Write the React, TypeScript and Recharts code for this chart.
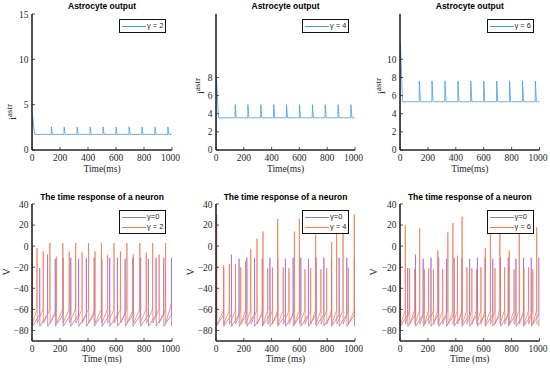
import React from "react"
import { LineChart, Line, XAxis, YAxis } from "recharts"

// astrocyte output: spike times (ms) shared by all three gamma values
const gammas = [2, 4, 6]
const astroTimes = [137, 228, 321, 414, 506, 599, 692, 784, 877, 969]
const astroStart = [4.0, 8.0, 11.8]
const astroBase = [1.72, 3.55, 5.32]
const astroPeak = [2.55, 5.0, 7.6]
const astroYTicks = [
  [0, 5, 10, 15],
  [0, 2, 4, 6, 8],
  [0, 2, 4, 6, 8, 10],
]

// neuron, gamma = 0
const purpleTimes = [3, 55, 111, 166, 222, 277, 333, 388, 444, 499, 555, 610, 665, 720, 776, 831, 886, 941, 996]
const purplePeaks = [-3, -21, -8, -12, -11, -11, -12, -11, -11, -12, -11, -11, -12, -11, -11, -12, -11, -11, -11]

// neuron, gamma = 2
const orange2Times = [3, 36, 80, 128, 174, 220, 266, 312, 358, 404, 450, 496, 540, 586, 632, 678, 724, 770, 816, 862, 908, 954]
const orange2Peaks = [0, -2, -5, 3, -10, 3, -5, 3, -6, 3, -5, 3, -8, 3, -5, 3, -8, 3, -6, 3, -8, 3]

// neuron, gamma = 4
const orange4Times = [5, 55, 96, 140, 178, 213, 250, 295, 338, 372, 406, 444, 484, 525, 564, 600, 640, 681, 717, 755, 796, 832, 868, 914, 952, 995]
const orange4Peaks = [30, -18, -17, -17, -20, -14, -3, 7, 14, -21, -20, 26, -20, -21, 14, 26, -22, -21, 11, -22, -21, 4, 19, 12, -20, 30]

// neuron, gamma = 6
const orange6Times = [3, 38, 69, 105, 141, 175, 205, 240, 271, 306, 343, 379, 412, 445, 480, 515, 548, 580, 612, 648, 681, 716, 750, 783, 818, 855, 888, 922, 952, 980]
const orange6Peaks = [-5, 20, -21, -22, 17, -22, -21, -22, -4, -22, 13, 22, -9, 28, -20, -21, -22, -20, -2, 20, -21, 22, -20, -4, -22, 24, -21, -20, -22, 18]

const xTicks = [0, 200, 400, 600, 800, 1000]
const vTicks = [-80, -60, -40, -20, 0, 20, 40]

type Pt = { t: number; v: number }

function astroSeries(i: number): Pt[] {
  const pts: Pt[] = [
    { t: 0, v: 0 },
    { t: 3, v: astroStart[i] },
    { t: 18, v: astroBase[i] },
  ]
  astroTimes.forEach((s) => {
    pts.push({ t: s, v: astroBase[i] }, { t: s + 1.5, v: astroPeak[i] }, { t: s + 9, v: astroBase[i] })
  })
  pts.push({ t: 1000, v: astroBase[i] })
  return pts
}

function spikeSeries(times: number[], peaks: number[], reset: number, thr: number, end: number): Pt[] {
  const pts: Pt[] = [{ t: 0, v: -65 }]
  times.forEach((s, k) => {
    pts.push({ t: s - 0.8, v: thr }, { t: s, v: peaks[k] }, { t: s + 1.2, v: reset })
  })
  pts.push({ t: 1000, v: end })
  return pts
}

const BLUE = "#4598da"
const PURPLE = "#a26fd2"
const ORANGE = "#f07d55"
const AX = "#262626"

const purple = spikeSeries(purpleTimes, purplePeaks, -76, -65, -74)
const neuron = [
  spikeSeries(orange2Times, orange2Peaks, -73, -60, -52),
  spikeSeries(orange4Times, orange4Peaks, -74, -61, -62),
  spikeSeries(orange6Times, orange6Peaks, -74, -61, -70),
]

const cols = [
  { x0: 32, x1: 172 },
  { x0: 216, x1: 355 },
  { x0: 400, x1: 539.5 },
]
const rows = [
  { y0: 14, y1: 150 },
  { y0: 204, y1: 341 },
]

const fmt = (v: number) => (v < 0 ? `\u2212${-v}` : `${v}`)
const tickStyle = { fontSize: 9.5, fontFamily: "Liberation Serif", fill: AX }

type Series = { data: Pt[]; color: string; key: string }

function Panel(props: {
  x0: number
  x1: number
  y0: number
  y1: number
  domain: [number, number]
  yTicks: number[]
  series: Series[]
}) {
  const { x0, x1, y0, y1, domain, yTicks, series } = props
  const padL = 34
  const padR = 8
  const padT = 4
  const padB = 22
  return (
    <div style={{ position: "absolute", left: x0 - padL, top: y0 - padT }}>
      <LineChart
        width={x1 - x0 + padL + padR}
        height={y1 - y0 + padT + padB}
        margin={{ top: padT, right: padR, bottom: 0, left: 0 }}
      >
        <XAxis
          dataKey="t"
          type="number"
          domain={[0, 1000]}
          ticks={xTicks}
          allowDataOverflow
          height={padB}
          tickSize={-3}
          tickMargin={7}
          tick={tickStyle}
          tickLine={{ stroke: AX, strokeWidth: 0.8 }}
          axisLine={{ stroke: AX, strokeWidth: 1.6 }}
        />
        <XAxis
          xAxisId="top"
          orientation="top"
          dataKey="t"
          type="number"
          domain={[0, 1000]}
          ticks={xTicks}
          allowDataOverflow
          height={0}
          tickSize={-3}
          tick={false}
          tickLine={{ stroke: AX, strokeWidth: 0.8 }}
          axisLine={{ stroke: AX, strokeWidth: 1.6 }}
        />
        <YAxis
          type="number"
          domain={domain}
          ticks={yTicks}
          allowDataOverflow
          width={padL}
          tickSize={-3}
          tickMargin={6.5}
          tick={tickStyle}
          tickFormatter={fmt}
          tickLine={{ stroke: AX, strokeWidth: 0.8 }}
          axisLine={{ stroke: AX, strokeWidth: 1.6 }}
        />
        <YAxis
          yAxisId="right"
          orientation="right"
          type="number"
          domain={domain}
          ticks={yTicks}
          allowDataOverflow
          width={0}
          tickSize={-3}
          tick={false}
          tickLine={{ stroke: AX, strokeWidth: 0.8 }}
          axisLine={{ stroke: AX, strokeWidth: 1.6 }}
        />
        {series.map((s) => (
          <Line
            key={s.key}
            data={s.data}
            dataKey="v"
            type="linear"
            stroke={s.color}
            strokeWidth={0.85}
            strokeOpacity={0.9}
            dot={false}
            activeDot={false}
            isAnimationActive={false}
          />
        ))}
      </LineChart>
    </div>
  )
}

function Text(props: { cx: number; cy: number; size: number; bold?: boolean; serif?: boolean; rotate?: boolean; children: React.ReactNode }) {
  const { cx, cy, size, bold, serif, rotate, children } = props
  return (
    <div
      style={{
        position: "absolute",
        left: cx,
        top: cy,
        transform: `translate(-50%, -50%)${rotate ? " rotate(-90deg)" : ""}`,
        whiteSpace: "nowrap",
        fontSize: size,
        lineHeight: 1,
        fontWeight: bold ? 700 : 400,
        fontFamily: serif ? "Liberation Serif" : "Liberation Sans",
        color: bold ? "#000" : AX,
      }}
    >
      {children}
    </div>
  )
}

function LegendBox(props: { right: number; top: number; items: { label: string; color: string }[] }) {
  const { right, top, items } = props
  return (
    <div
      style={{
        position: "absolute",
        left: right - 47,
        top,
        width: 47,
        boxSizing: "border-box",
        border: "1.3px solid #111",
        background: "#fff",
        padding: "1px 0",
        fontFamily: "Liberation Sans",
      }}
    >
      {items.map((it) => (
        <div key={it.label} style={{ display: "flex", alignItems: "center", height: 10 }}>
          <span style={{ display: "inline-block", width: 24, marginLeft: 2, borderTop: `1px solid ${it.color}` }} />
          <span style={{ fontSize: 7.5, marginLeft: 1, color: "#222", lineHeight: 1 }}>{it.label}</span>
        </div>
      ))}
    </div>
  )
}

const astroLabelY = [112, 86, 86]
const astroLabelX = [11, 198.5, 379.5]
const vLabelX = [7, 191, 373.5]

export default function App() {
  return (
    <div style={{ position: "absolute", left: 0, top: 0, width: 550, height: 368, background: "#fff", overflow: "hidden" }}>
      {cols.map((c, i) => (
        <React.Fragment key={`top${i}`}>
          <Panel
            x0={c.x0}
            x1={c.x1}
            y0={rows[0].y0}
            y1={rows[0].y1}
            domain={[0, 15]}
            yTicks={astroYTicks[i]}
            series={[{ data: astroSeries(i), color: BLUE, key: "a" }]}
          />
          <Text cx={(c.x0 + c.x1) / 2} cy={6} size={8.5} bold>
            Astrocyte output
          </Text>
          <Text cx={(c.x0 + c.x1) / 2} cy={170} size={9.5} serif>
            Time(ms)
          </Text>
          <Text cx={astroLabelX[i]} cy={astroLabelY[i]} size={11} serif rotate>
            i<sup style={{ fontSize: 9, verticalAlign: "4px" }}>astr</sup>
          </Text>
          <LegendBox right={c.x1 - 6} top={19} items={[{ label: `\u03b3 = ${gammas[i]}`, color: BLUE }]} />
        </React.Fragment>
      ))}
      {cols.map((c, i) => (
        <React.Fragment key={`bot${i}`}>
          <Panel
            x0={c.x0}
            x1={c.x1}
            y0={rows[1].y0}
            y1={rows[1].y1}
            domain={[-90, 40]}
            yTicks={vTicks}
            series={[
              { data: purple, color: PURPLE, key: "p" },
              { data: neuron[i], color: ORANGE, key: "o" },
            ]}
          />
          <Text cx={(c.x0 + c.x1) / 2} cy={196.5} size={8.5} bold>
            The time response of a neuron
          </Text>
          <Text cx={(c.x0 + c.x1) / 2} cy={360} size={9.5} serif>
            Time (ms)
          </Text>
          <Text cx={vLabelX[i]} cy={272} size={10} serif rotate>
            V
          </Text>
          <LegendBox
            right={c.x1 - 6}
            top={210}
            items={[
              { label: "\u03b3=0", color: PURPLE },
              { label: `\u03b3 = ${gammas[i]}`, color: ORANGE },
            ]}
          />
        </React.Fragment>
      ))}
    </div>
  )
}
